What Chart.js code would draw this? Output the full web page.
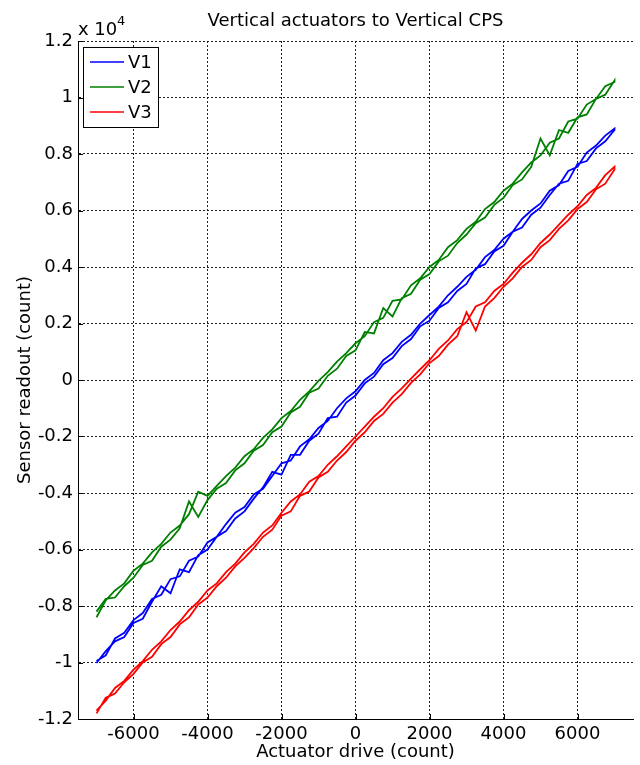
<!DOCTYPE html>
<html>
<head>
<meta charset="utf-8">
<title>Vertical actuators to Vertical CPS</title>
<script src="https://cdn.jsdelivr.net/npm/chart.js@4.4.0/dist/chart.umd.min.js"></script>
<style>
  html, body { margin: 0; padding: 0; background: #fff; }
  canvas { display: block; }
</style>
</head>
<body>
<canvas id="myChart" width="640" height="765"></canvas>
<script>
// actuator drive steps (count), same for forward and return sweep
const drive = [-7000, -6750, -6500, -6250, -6000, -5750, -5500, -5250, -5000, -4750,
  -4500, -4250, -4000, -3750, -3500, -3250, -3000, -2750, -2500, -2250,
  -2000, -1750, -1500, -1250, -1000, -750, -500, -250, 0, 250,
  500, 750, 1000, 1250, 1500, 1750, 2000, 2250, 2500, 2750,
  3000, 3250, 3500, 3750, 4000, 4250, 4500, 4750, 5000, 5250,
  5500, 5750, 6000, 6250, 6500, 6750, 7000];

const xTicks = [-6000, -4000, -2000, 0, 2000, 4000, 6000];
const yTicks = [-12000, -10000, -8000, -6000, -4000, -2000, 0, 2000, 4000, 6000, 8000, 10000, 12000];

const seriesNames = ["V1", "V2", "V3"];
const seriesColors = ["#0000ff", "#008000", "#ff0000"];

// sensor readout, forward sweep (up) and return sweep (down)
const v1Up = [-10020, -9600, -9250, -9100, -8600, -8450, -7850, -7300, -7550, -6700,
  -6800, -6200, -6000, -5550, -5350, -4900, -4650, -4200, -3800, -3250,
  -3350, -2650, -2650, -2150, -1900, -1350, -1300, -800, -550, -120,
  120, 560, 780, 1200, 1450, 1900, 2100, 2550, 2750, 3150,
  3400, 3950, 4100, 4550, 4750, 5250, 5400, 5850, 6100, 6550,
  6950, 7050, 7650, 7750, 8200, 8450, 8850];
const v1Down = [-9950, -9750, -9150, -8950, -8500, -8250, -7750, -7600, -7050, -6950,
  -6400, -6250, -5750, -5550, -5100, -4700, -4500, -4050, -3850, -3400,
  -2950, -2850, -2350, -2100, -1700, -1450, -1000, -650, -400, 0,
  250, 700, 950, 1350, 1600, 2000, 2300, 2600, 3000, 3300,
  3650, 3900, 4350, 4600, 5000, 5250, 5700, 6000, 6250, 6700,
  6900, 7400, 7550, 8050, 8300, 8650, 8900];

const v2Up = [-8200, -7750, -7700, -7300, -7000, -6550, -6400, -5900, -5650, -5250,
  -4300, -4850, -4250, -3850, -3650, -3200, -2950, -2500, -2300, -1850,
  -1650, -1150, -950, -450, -300, 150, 400, 850, 1050, 1700,
  1650, 2550, 2250, 2900, 3050, 3550, 3750, 4200, 4400, 4850,
  5150, 5550, 5750, 6200, 6450, 6900, 7100, 7550, 8550, 7950,
  8850, 8750, 9300, 9400, 9950, 10100, 10600];
const v2Down = [-8400, -7800, -7450, -7200, -6750, -6500, -6100, -5800, -5400, -5150,
  -4750, -3950, -4100, -3750, -3400, -3100, -2700, -2450, -2050, -1750,
  -1350, -1100, -700, -400, -30, 280, 650, 950, 1300, 1550,
  2050, 2200, 2800, 2850, 3350, 3600, 4000, 4250, 4700, 4950,
  5350, 5600, 6050, 6300, 6700, 6950, 7350, 7700, 7950, 8400,
  8550, 9150, 9250, 9750, 9950, 10400, 10550];

const v3Up = [-11800, -11250, -11100, -10700, -10400, -10000, -9800, -9350, -9100, -8650,
  -8400, -7950, -7700, -7300, -7000, -6600, -6300, -5950, -5550, -5300,
  -4800, -4650, -4100, -3950, -3450, -3250, -2850, -2550, -2150, -1850,
  -1450, -1200, -800, -500, -100, 200, 600, 850, 1250, 1550,
  2400, 1750, 2600, 2900, 3300, 3600, 4000, 4250, 4700, 4950,
  5350, 5650, 6050, 6300, 6750, 6950, 7450];
const v3Down = [-11700, -11350, -10900, -10650, -10250, -9950, -9550, -9250, -8850, -8550,
  -8150, -7850, -7450, -7200, -6800, -6500, -6100, -5800, -5400, -5150,
  -4700, -4300, -4050, -3600, -3400, -3000, -2700, -2350, -2000, -1650,
  -1300, -1000, -600, -300, 50, 380, 700, 1100, 1400, 1800,
  2050, 2600, 2750, 3150, 3400, 3800, 4150, 4450, 4850, 5150,
  5500, 5850, 6150, 6550, 6800, 7250, 7550];

const ups = [v1Up, v2Up, v3Up];
const downs = [v1Down, v2Down, v3Down];

const FONT = "'DejaVu Sans', sans-serif";

// forward sweep then the return sweep back to the start
function loop(up, down) {
  const fwd = drive.map((x, i) => ({ x: x, y: up[i] }));
  const back = drive.map((x, i) => ({ x: x, y: down[i] })).reverse();
  return fwd.concat(back);
}

// title, exponent label, inward ticks and legend box (matlab look)
const matlabBits = {
  id: "matlabBits",
  afterDraw(chart) {
    const ctx = chart.ctx;
    const area = chart.chartArea;
    const xs = chart.scales.x;
    const ys = chart.scales.y;
    ctx.save();

    ctx.strokeStyle = "#000";
    ctx.lineWidth = 1;
    ctx.beginPath();
    xTicks.forEach(v => {
      const px = Math.round(xs.getPixelForValue(v)) + 0.5;
      ctx.moveTo(px, area.bottom);
      ctx.lineTo(px, area.bottom - 5);
    });
    yTicks.forEach(v => {
      const py = Math.round(ys.getPixelForValue(v)) + 0.5;
      ctx.moveTo(area.left, py);
      ctx.lineTo(area.left + 5, py);
    });
    ctx.stroke();

    ctx.fillStyle = "#000";
    ctx.font = "18px " + FONT;
    ctx.textBaseline = "alphabetic";
    ctx.textAlign = "center";
    ctx.fillText("Vertical actuators to Vertical CPS", (area.left + area.right) / 2, 26);

    ctx.textAlign = "left";
    ctx.fillText("x 10", 78, 35);
    ctx.font = "13px " + FONT;
    ctx.fillText("4", 117, 25);

    // legend
    ctx.fillStyle = "#fff";
    ctx.fillRect(83.5, 47.5, 75, 80);
    ctx.strokeStyle = "#000";
    ctx.strokeRect(83.5, 47.5, 75, 80);
    ctx.font = "18px " + FONT;
    ctx.textBaseline = "middle";
    chart.data.datasets.forEach((ds, i) => {
      const y = 62 + i * 25;
      ctx.strokeStyle = ds.borderColor;
      ctx.lineWidth = 1.5;
      ctx.beginPath();
      ctx.moveTo(90, y);
      ctx.lineTo(124, y);
      ctx.stroke();
      ctx.fillStyle = "#000";
      ctx.fillText(ds.label, 128, y + 1);
    });

    ctx.restore();
  }
};

const ctx = document.querySelector("#myChart").getContext("2d");

new Chart(ctx, {
  type: "line",
  data: {
    datasets: seriesNames.map((name, k) => ({
      label: name,
      data: loop(ups[k], downs[k]),
      borderColor: seriesColors[k],
      backgroundColor: seriesColors[k],
      borderWidth: 1.8,
      pointRadius: 0,
      fill: false,
      tension: 0
    }))
  },
  options: {
    responsive: false,
    animation: false,
    layout: { padding: { top: 41, right: 7, left: 0, bottom: 0 } },
    plugins: {
      legend: { display: false },
      tooltip: { enabled: false },
      title: { display: false }
    },
    scales: {
      x: {
        type: "linear",
        min: -7500,
        max: 7500,
        afterBuildTicks: s => { s.ticks = xTicks.map(v => ({ value: v })); },
        afterFit: s => { s.height = 46; },
        grid: { color: "#222", lineWidth: 1, drawTicks: false },
        border: { color: "#000", width: 1, dash: [2, 2] },
        ticks: {
          color: "#000",
          font: { family: FONT, size: 18 },
          padding: 5,
          maxRotation: 0,
          autoSkip: false,
          callback: v => String(v)
        },
        title: {
          display: true,
          text: "Actuator drive (count)",
          color: "#000",
          font: { family: FONT, size: 18 },
          padding: { top: 0, bottom: 2 }
        }
      },
      y: {
        type: "linear",
        min: -12000,
        max: 12000,
        afterBuildTicks: s => { s.ticks = yTicks.map(v => ({ value: v })); },
        afterFit: s => { s.width = 78; },
        grid: { color: "#222", lineWidth: 1, drawTicks: false },
        border: { color: "#000", width: 1, dash: [2, 2] },
        ticks: {
          color: "#000",
          font: { family: FONT, size: 18 },
          padding: 5,
          autoSkip: false,
          callback: v => String(+(v / 10000).toFixed(1))
        },
        title: {
          display: true,
          text: "Sensor readout (count)",
          color: "#000",
          font: { family: FONT, size: 18 },
          padding: { top: 15, bottom: 0 }
        }
      }
    }
  },
  plugins: [matlabBits]
});
</script>
</body>
</html>
